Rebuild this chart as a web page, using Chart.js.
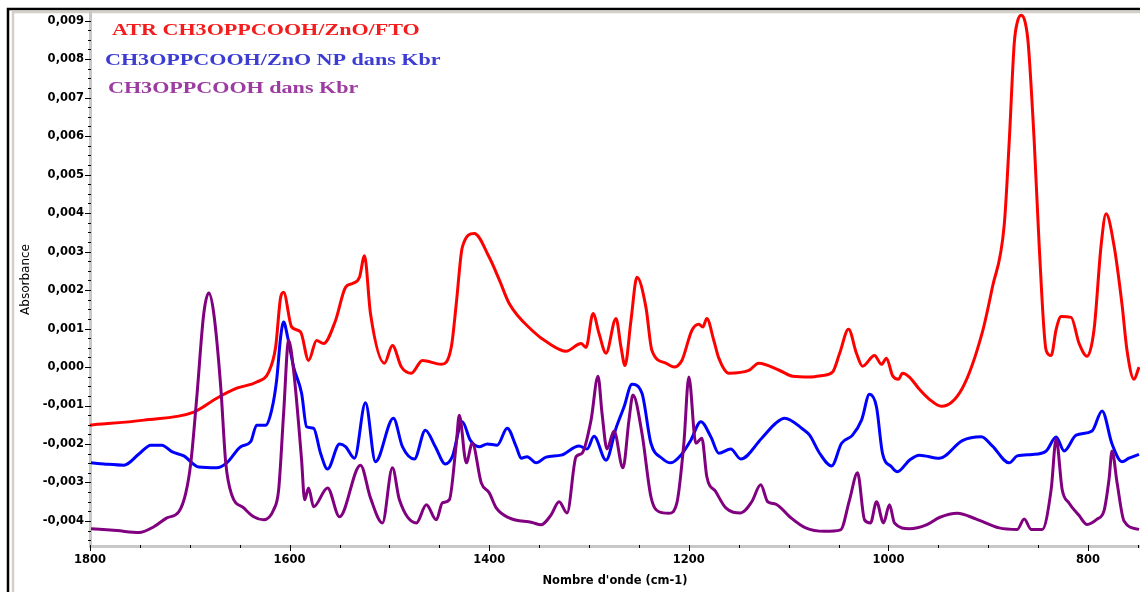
<!DOCTYPE html>
<html lang="fr">
<head>
<meta charset="utf-8">
<title>Absorbance CH3OPPCOOH</title>
<script src="https://cdn.jsdelivr.net/npm/chart.js@4.4.1/dist/chart.umd.min.js"></script>
<style>
  html, body { margin: 0; padding: 0; background: #fff; }
  #chart { display: block; }
</style>
</head>
<body>
<canvas id="chart" width="1140" height="592"></canvas>
<script>
const redWavenumber = [1800, 1746, 1696, 1673, 1653, 1633, 1621, 1614, 1609, 1606, 1598, 1589, 1581, 1573, 1566, 1554, 1544, 1537, 1530, 1525, 1519, 1505, 1497, 1488, 1478, 1467, 1448, 1438, 1433, 1427, 1415, 1400, 1390, 1380, 1357, 1340, 1323, 1308, 1303, 1296, 1290, 1283, 1273, 1268, 1264, 1258, 1252, 1243, 1237, 1223, 1215, 1207, 1197, 1190, 1186, 1182, 1175, 1170, 1160, 1140, 1130, 1109, 1096, 1079, 1066, 1056, 1049, 1040, 1032, 1026, 1014, 1007, 1002, 996, 990, 986, 979, 969, 959, 947, 926, 906, 896, 884, 879, 874, 871, 867, 863, 860, 854, 849, 842, 837, 832, 827, 817, 809, 801, 794, 787, 782, 774, 766, 761, 754, 749];
const redAbsorbance = [-1.51e-3, -1.38e-3, -1.17e-3, -0.81e-3, -0.55e-3, -0.39e-3, -0.13e-3, 0.52e-3, 1.81e-3, 1.94e-3, 1.04e-3, 0.91e-3, 0.17e-3, 0.69e-3, 0.61e-3, 1.21e-3, 2.07e-3, 2.17e-3, 2.33e-3, 2.89e-3, 1.39e-3, 0.10e-3, 0.56e-3, 0.00e-3, -0.16e-3, 0.17e-3, 0.07e-3, 0.52e-3, 1.65e-3, 3.11e-3, 3.47e-3, 2.85e-3, 2.27e-3, 1.65e-3, 0.95e-3, 0.61e-3, 0.41e-3, 0.61e-3, 0.51e-3, 1.39e-3, 0.87e-3, 0.36e-3, 1.26e-3, 0.52e-3, 0.04e-3, 1.21e-3, 2.33e-3, 1.55e-3, 0.43e-3, 0.10e-3, 0.00e-3, 0.17e-3, 0.95e-3, 1.11e-3, 1.04e-3, 1.26e-3, 0.69e-3, 0.23e-3, -0.16e-3, -0.09e-3, 0.10e-3, -0.09e-3, -0.24e-3, -0.26e-3, -0.22e-3, -0.13e-3, 0.35e-3, 0.98e-3, 0.35e-3, 0.02e-3, 0.30e-3, 0.07e-3, 0.23e-3, -0.22e-3, -0.32e-3, -0.16e-3, -0.26e-3, -0.58e-3, -0.84e-3, -1.02e-3, -0.55e-3, 0.90e-3, 2.06e-3, 3.70e-3, 5.87e-3, 8.41e-3, 8.95e-3, 9.14e-3, 8.95e-3, 8.41e-3, 5.87e-3, 3.15e-3, 0.43e-3, 0.30e-3, 0.98e-3, 1.31e-3, 1.29e-3, 0.61e-3, 0.28e-3, 0.98e-3, 3.15e-3, 3.98e-3, 3.15e-3, 1.62e-3, 0.43e-3, -0.32e-3, 0.00e-3];

const blueWavenumber = [1799, 1786, 1766, 1751, 1739, 1728, 1718, 1706, 1691, 1673, 1663, 1649, 1639, 1633, 1624, 1618, 1613, 1609, 1606, 1602, 1596, 1588, 1583, 1576, 1569, 1562, 1550, 1544, 1535, 1524, 1514, 1496, 1487, 1475, 1464, 1454, 1444, 1437, 1427, 1419, 1410, 1402, 1392, 1382, 1373, 1368, 1362, 1353, 1343, 1328, 1310, 1302, 1295, 1283, 1273, 1265, 1257, 1247, 1238, 1227, 1218, 1208, 1198, 1188, 1178, 1170, 1158, 1148, 1127, 1113, 1104, 1086, 1079, 1069, 1057, 1047, 1036, 1027, 1019, 1012, 1006, 997, 991, 979, 969, 949, 926, 907, 896, 879, 871, 856, 842, 832, 824, 812, 796, 786, 776, 766, 759, 749];
const blueAbsorbance = [-2.49e-3, -2.52e-3, -2.55e-3, -2.26e-3, -2.03e-3, -2.03e-3, -2.20e-3, -2.31e-3, -2.60e-3, -2.62e-3, -2.49e-3, -2.07e-3, -1.94e-3, -1.51e-3, -1.51e-3, -1.12e-3, -0.34e-3, 0.78e-3, 1.17e-3, 0.78e-3, 0.00e-3, -0.68e-3, -1.55e-3, -1.59e-3, -2.24e-3, -2.65e-3, -2.00e-3, -2.07e-3, -2.37e-3, -0.93e-3, -2.46e-3, -1.33e-3, -2.07e-3, -2.39e-3, -1.64e-3, -2.07e-3, -2.52e-3, -2.33e-3, -1.42e-3, -1.90e-3, -2.07e-3, -2.00e-3, -2.03e-3, -1.59e-3, -2.07e-3, -2.37e-3, -2.33e-3, -2.49e-3, -2.34e-3, -2.29e-3, -2.05e-3, -2.13e-3, -1.80e-3, -2.42e-3, -1.59e-3, -1.04e-3, -0.45e-3, -0.68e-3, -1.98e-3, -2.37e-3, -2.49e-3, -2.29e-3, -1.90e-3, -1.42e-3, -1.81e-3, -2.24e-3, -2.13e-3, -2.39e-3, -1.85e-3, -1.46e-3, -1.33e-3, -1.61e-3, -1.77e-3, -2.24e-3, -2.57e-3, -1.98e-3, -1.77e-3, -1.38e-3, -0.71e-3, -1.04e-3, -2.24e-3, -2.59e-3, -2.72e-3, -2.42e-3, -2.29e-3, -2.37e-3, -1.91e-3, -1.81e-3, -2.05e-3, -2.49e-3, -2.31e-3, -2.27e-3, -2.18e-3, -1.82e-3, -2.18e-3, -1.77e-3, -1.66e-3, -1.14e-3, -2.00e-3, -2.46e-3, -2.37e-3, -2.27e-3];

const purpleWavenumber = [1799, 1773, 1751, 1736, 1723, 1711, 1704, 1699, 1693, 1686, 1681, 1676, 1669, 1664, 1658, 1646, 1636, 1626, 1616, 1611, 1606, 1601, 1596, 1588, 1585, 1581, 1576, 1562, 1550, 1529, 1519, 1507, 1497, 1490, 1473, 1463, 1453, 1447, 1440, 1433, 1430, 1423, 1417, 1408, 1400, 1393, 1380, 1357, 1348, 1338, 1330, 1322, 1313, 1307, 1298, 1291, 1287, 1282, 1275, 1266, 1260, 1256, 1247, 1238, 1230, 1220, 1212, 1205, 1200, 1193, 1187, 1182, 1173, 1163, 1148, 1137, 1128, 1121, 1113, 1099, 1083, 1064, 1048, 1039, 1031, 1024, 1018, 1012, 1005, 999, 994, 979, 962, 949, 931, 912, 889, 871, 864, 857, 846, 837, 832, 826, 819, 809, 801, 791, 784, 779, 776, 771, 764, 749];
const purpleAbsorbance = [-4.20e-3, -4.25e-3, -4.30e-3, -4.15e-3, -3.92e-3, -3.76e-3, -3.27e-3, -2.49e-3, -0.78e-3, 1.39e-3, 1.92e-3, 1.39e-3, -0.52e-3, -2.49e-3, -3.32e-3, -3.66e-3, -3.89e-3, -3.97e-3, -3.71e-3, -3.19e-3, -1.20e-3, 0.69e-3, -0.09e-3, -2.42e-3, -3.45e-3, -3.14e-3, -3.63e-3, -3.14e-3, -3.89e-3, -2.55e-3, -3.40e-3, -4.05e-3, -2.62e-3, -3.45e-3, -4.05e-3, -3.58e-3, -3.97e-3, -3.53e-3, -3.45e-3, -1.98e-3, -1.25e-3, -2.49e-3, -1.98e-3, -3.01e-3, -3.27e-3, -3.66e-3, -3.92e-3, -4.04e-3, -4.10e-3, -3.84e-3, -3.50e-3, -3.79e-3, -2.33e-3, -2.24e-3, -1.38e-3, -0.24e-3, -1.20e-3, -2.13e-3, -1.66e-3, -2.62e-3, -1.38e-3, -0.73e-3, -1.72e-3, -3.37e-3, -3.76e-3, -3.80e-3, -3.53e-3, -1.98e-3, -0.26e-3, -1.98e-3, -1.85e-3, -2.85e-3, -3.24e-3, -3.66e-3, -3.79e-3, -3.50e-3, -3.06e-3, -3.50e-3, -3.56e-3, -3.89e-3, -4.18e-3, -4.27e-3, -4.23e-3, -3.45e-3, -2.75e-3, -3.97e-3, -4.05e-3, -3.50e-3, -4.05e-3, -3.58e-3, -4.05e-3, -4.20e-3, -4.10e-3, -3.91e-3, -3.80e-3, -3.95e-3, -4.18e-3, -4.22e-3, -3.95e-3, -4.22e-3, -4.22e-3, -3.18e-3, -1.87e-3, -3.18e-3, -3.54e-3, -3.86e-3, -4.09e-3, -3.95e-3, -3.73e-3, -2.91e-3, -2.18e-3, -3.00e-3, -4.00e-3, -4.22e-3];

const seriesLabels = ["ATR CH3OPPCOOH/ZnO/FTO", "CH3OPPCOOH/ZnO NP dans Kbr", "CH3OPPCOOH dans Kbr"];
const xTitle = "Nombre d'onde (cm-1)";
const yTitle = "Absorbance";

// Monta os pares {x, y} para o Chart.js
function toPoints(wavenumbers, values) {
  return wavenumbers.map((w, i) => ({ x: w, y: values[i] }));
}

const tickFont = { family: "DejaVu Sans", size: 11.5, weight: "bold" };

// Fundo branco e moldura da janela
const framePlugin = {
  id: "frame",
  beforeDraw(chart) {
    const c = chart.ctx;
    c.save();
    c.fillStyle = "#fff";
    c.fillRect(0, 0, chart.width, chart.height);
    c.lineWidth = 2.5;
    c.strokeStyle = "#000";
    c.beginPath();
    c.moveTo(8, chart.height);
    c.lineTo(8, 9);
    c.lineTo(chart.width, 9);
    c.stroke();
    c.strokeStyle = "#d4d0c8";
    c.beginPath();
    c.moveTo(13, chart.height);
    c.lineTo(13, 12);
    c.lineTo(chart.width, 12);
    c.stroke();
    c.restore();
  },
};

// Marcas principais e secundárias dos eixos
const axisMarksPlugin = {
  id: "axisMarks",
  afterDraw(chart) {
    const { ctx, scales } = chart;
    const x = scales.x;
    const y = scales.y;
    ctx.save();
    ctx.strokeStyle = "#000";
    ctx.lineWidth = 1;
    for (let k = -18; k <= 36; k++) {
      const py = Math.round(y.getPixelForValue(k * 0.00025)) + 0.5;
      const major = k % 4 === 0;
      ctx.beginPath();
      ctx.moveTo(y.right - (major ? 5 : 2), py);
      ctx.lineTo(y.right + 1, py);
      ctx.stroke();
    }
    for (let w = 750; w <= 1800; w += 50) {
      const px = Math.round(x.getPixelForValue(w)) + 0.5;
      const major = w % 200 === 0;
      ctx.beginPath();
      ctx.moveTo(px, x.top - 1);
      ctx.lineTo(px, x.top + (major ? 5 : 2));
      ctx.stroke();
    }
    ctx.restore();
  },
};

// Legenda em texto colorido no canto superior esquerdo
const legendText = [
  { color: "#f41c1c", left: 112, baseline: 35 },
  { color: "#3c3cd2", left: 105, baseline: 65 },
  { color: "#9c3ca0", left: 108, baseline: 93 },
];
const legendPlugin = {
  id: "legendText",
  afterDraw(chart) {
    const c = chart.ctx;
    c.save();
    c.font = "bold 16px 'Liberation Serif'";
    c.textBaseline = "alphabetic";
    chart.data.datasets.forEach((ds, i) => {
      const pos = legendText[i];
      c.save();
      c.translate(pos.left, pos.baseline);
      c.scale(1.38, 1);
      c.fillStyle = pos.color;
      c.fillText(ds.label, 0, 0);
      c.restore();
    });
    c.restore();
  },
};

const ctx = document.getElementById("chart").getContext("2d");

window.spectrumChart = new Chart(ctx, {
  type: "line",
  data: {
    datasets: [
      {
        label: seriesLabels[0],
        data: toPoints(redWavenumber, redAbsorbance),
        borderColor: "#ff0000",
        order: 3,
      },
      {
        label: seriesLabels[1],
        data: toPoints(blueWavenumber, blueAbsorbance),
        borderColor: "#0000ff",
        order: 2,
      },
      {
        label: seriesLabels[2],
        data: toPoints(purpleWavenumber, purpleAbsorbance),
        borderColor: "#800080",
        order: 1,
      },
    ],
  },
  options: {
    responsive: false,
    animation: false,
    layout: { padding: { top: 11, left: 0, right: 0, bottom: 0 } },
    elements: {
      point: { radius: 0 },
      line: { borderWidth: 3, fill: false, cubicInterpolationMode: "monotone" },
    },
    plugins: {
      legend: { display: false },
      tooltip: { enabled: false },
    },
    scales: {
      x: {
        type: "linear",
        reverse: true,
        min: 748,
        max: 1800,
        grid: { display: false, drawTicks: false },
        border: { display: true, color: "#c8c8c8", width: 3 },
        ticks: {
          stepSize: 200,
          includeBounds: false,
          autoSkip: false,
          maxRotation: 0,
          padding: 7,
          color: "#000",
          font: tickFont,
          callback: (v) => String(v),
        },
        title: {
          display: true,
          text: xTitle,
          color: "#000",
          font: { family: "DejaVu Sans", size: 11.5, weight: "bold" },
          padding: { top: 0, bottom: 4 },
        },
        afterFit(scale) {
          scale.height = 46;
        },
      },
      y: {
        type: "linear",
        min: -0.00465,
        max: 0.0092,
        grid: { display: false, drawTicks: false },
        border: { display: true, color: "#c8c8c8", width: 3 },
        ticks: {
          stepSize: 0.001,
          includeBounds: false,
          padding: 6,
          color: "#000",
          font: tickFont,
          callback: (v) => v.toFixed(3).replace(".", ","),
        },
        title: {
          display: true,
          text: yTitle,
          color: "#000",
          font: { family: "DejaVu Sans", size: 12 },
          padding: { top: 19, bottom: 0 },
        },
        afterFit(scale) {
          scale.width = 90;
        },
      },
    },
  },
  plugins: [framePlugin, axisMarksPlugin, legendPlugin],
});
</script>
</body>
</html>
